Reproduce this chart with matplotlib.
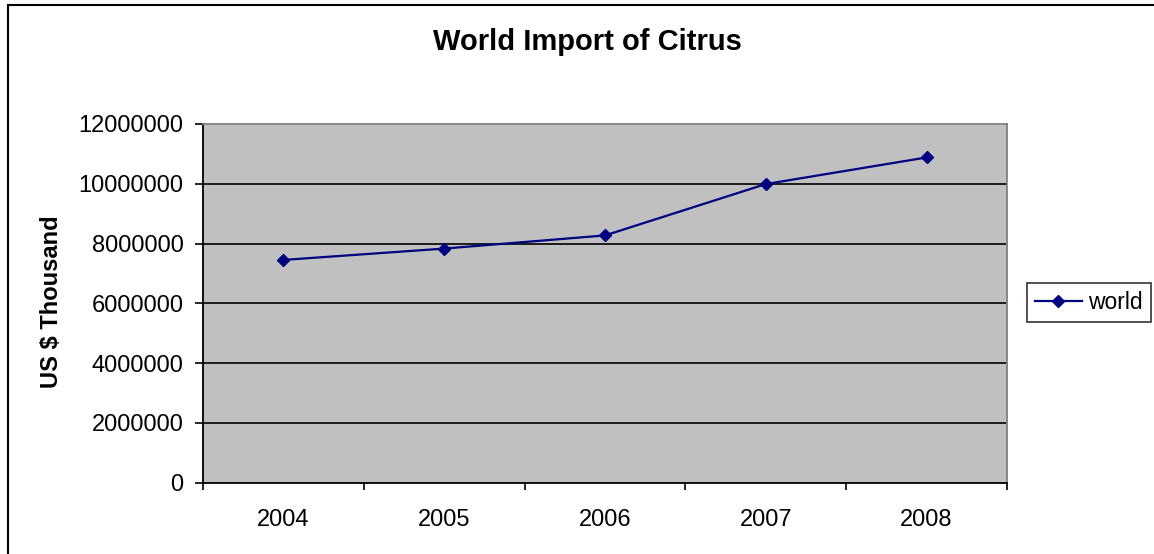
import matplotlib
matplotlib.use("Agg")
import matplotlib.pyplot as plt
from matplotlib.patches import Rectangle

years = ["2004", "2005", "2006", "2007", "2008"]
world = [7450000, 7830000, 8270000, 9990000, 10880000]
yticks = [0, 2000000, 4000000, 6000000, 8000000, 10000000, 12000000]

plt.rcParams['font.family'] = ['Liberation Sans', 'DejaVu Sans']

W, H = 1154, 554
fig = plt.figure(figsize=(W / 100, H / 100), dpi=100)
fig.patch.set_facecolor('white')

# outer chart border
fig.patches.append(Rectangle((8 / W, -0.1), 1.2, 1 - 5 / H + 0.1,
                             transform=fig.transFigure, fill=False,
                             edgecolor='black', linewidth=1.5))

left, right = 203 / W, 1007 / W
top, bottom = 1 - 124 / H, 1 - 482.5 / H
ax = fig.add_axes([left, bottom, right - left, top - bottom])
ax.set_facecolor('#C0C0C0')

x = list(range(len(years)))
ax.plot(x, world, color='#000080', linewidth=1.6, marker='D',
        markersize=6, markerfacecolor='#000080', markeredgecolor='#000080',
        label='world', zorder=3)

ax.set_xlim(-0.5, len(years) - 0.5)
ax.set_ylim(0, 12000000)

ax.set_yticks(yticks)
ax.set_yticklabels([str(v) for v in yticks])
for v in yticks[1:-1]:
    ax.axhline(v, color='black', linewidth=1.2, zorder=1)

ax.set_xticks([i - 0.5 for i in range(len(years) + 1)])
ax.set_xticklabels([])
ax.set_xticks(x, minor=True)
ax.set_xticklabels(years, minor=True)
ax.tick_params(axis='x', which='major', direction='out', length=5, width=1.2, color='black')
ax.tick_params(axis='x', which='minor', length=0, pad=19, labelsize=17)
ax.tick_params(axis='y', direction='out', length=6, width=1.2, pad=8, labelsize=17)

for s in ['left', 'bottom']:
    ax.spines[s].set_color('black')
    ax.spines[s].set_linewidth(1.3)
for s in ['top', 'right']:
    ax.spines[s].set_color('#808080')
    ax.spines[s].set_linewidth(1.3)

fig.text(587 / W, 1 - 50 / H, 'World Import of Citrus', ha='center', va='baseline',
         fontsize=21, fontweight='bold')
fig.text(52 / W, 1 - 301.5 / H, 'US $ Thousand', ha='center', va='center',
         rotation=90, fontsize=17, fontweight='bold')

leg = fig.legend(loc='center left', bbox_to_anchor=(1027 / W, 1 - 302.5 / H),
                 bbox_transform=fig.transFigure, fontsize=16.5, frameon=True,
                 fancybox=False, edgecolor='black', handlelength=2.05,
                 borderpad=0.33, handletextpad=0.3, borderaxespad=0)
leg.get_frame().set_linewidth(1.2)

fig.savefig('out.png', dpi=100)
